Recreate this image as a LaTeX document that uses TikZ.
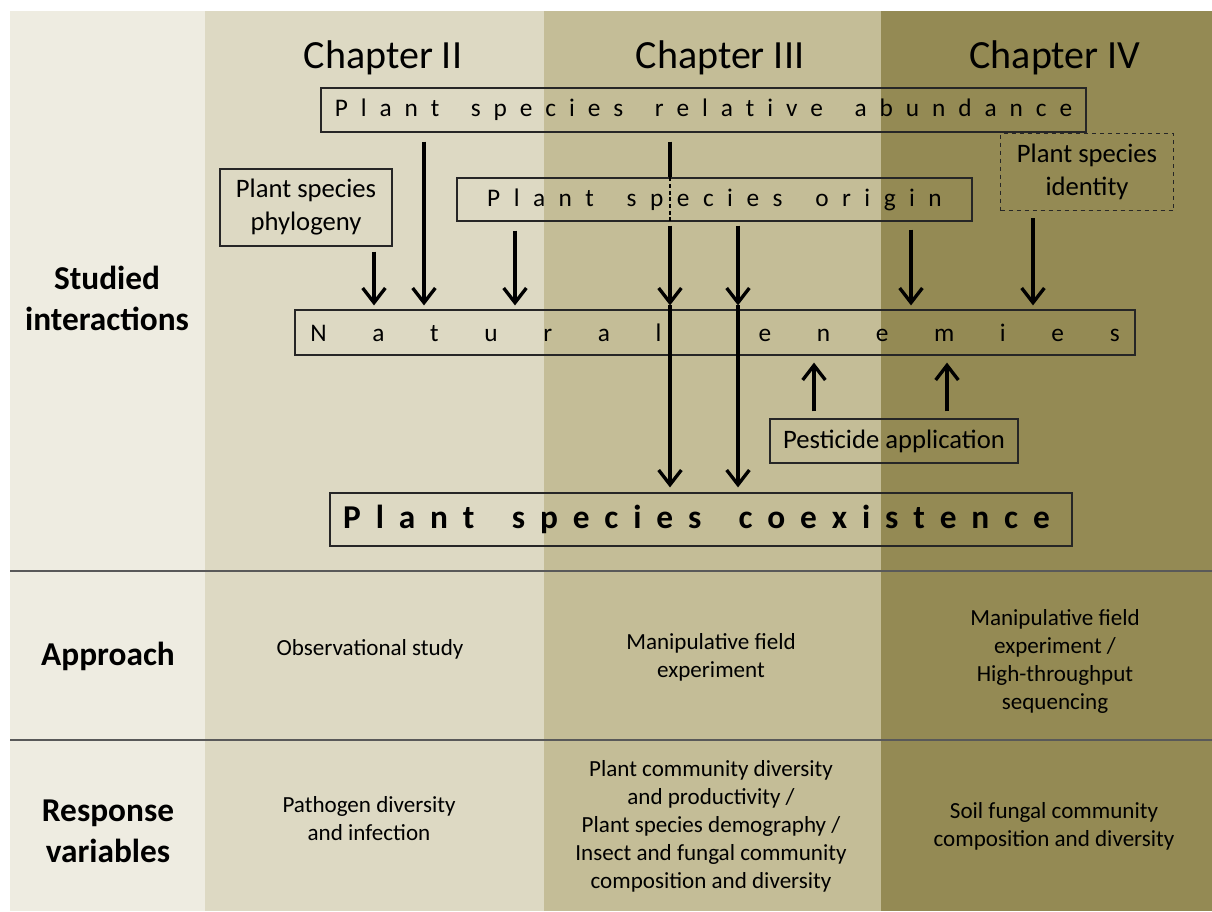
\documentclass[tikz,border=0pt]{standalone}
\usepackage{fontspec}
\setmainfont{Carlito}
\usetikzlibrary{arrows.meta,calc}
\definecolor{bgzero}{HTML}{EEECE1}
\definecolor{chtwo}{HTML}{DDD9C3}
\definecolor{chthree}{HTML}{C4BD97}
\definecolor{chfour}{HTML}{948A54}
\definecolor{rulecol}{HTML}{595959}
\def\spr#1{#1\sprA}
\def\sprA#1{\ifx#1\relax\else\hfil#1\expandafter\sprA\fi}
\newcommand\spaced[2]{\hbox to #1pt{\spr #2\relax}}
\begin{document}
\begin{tikzpicture}[x=0.75pt,y=-0.75pt,
  rulestyle/.style={draw=rulecol, line width=1.5pt},
  box/.style={draw=black!85, line width=0.9pt, inner sep=0pt, align=center},
  chap/.style={font=\fontsize{30}{36}\selectfont},
  rowlab/.style={font=\fontsize{25}{30.75}\selectfont\bfseries, align=center},
  midtext/.style={font=\fontsize{17.3}{21}\selectfont, align=center},
  boxtext/.style={font=\fontsize{20}{24.75}\selectfont},
  sptext/.style={font=\fontsize{19}{22}\selectfont},
  arr/.style={line width=2.5pt, -{Straight Barb[length=11pt,width=17pt]}},
  thickline/.style={line width=2.5pt}]
\useasboundingbox (0,0) rectangle (1212,911);
% column backgrounds
\fill[bgzero] (10,11) rectangle (205,911);
\fill[chtwo] (205,11) rectangle (544,911);
\fill[chthree] (544,11) rectangle (881,911);
\fill[chfour] (881,11) rectangle (1212,911);
\draw[rulestyle] (10,571) -- (1212,571);
\draw[rulestyle] (10,740) -- (1212,740);
% chapter titles
\node[chap] (t2) at (383,58) {Chapter II};
\node[chap] (t3) at (720,58) {Chapter III};
\node[chap] (t4) at (1055,58) {Chapter IV};
% row labels
\node[rowlab] (lab1) at (107,298) {Studied\\interactions};
\node[rowlab] (lab2) at (108,656) {Approach};
\node[rowlab] (lab3) at (108,831) {Response\\variables};
% boxes
\node[box, sptext, minimum width={765*0.75pt}, minimum height={44*0.75pt}] (abund) at (703.5,110)
  {\spaced{553}{Plant\ species\ relative\ abundance}};
\node[box, boxtext, minimum width={172*0.75pt}, minimum height={77*0.75pt}] (phylo) at (306,207.5)
  {Plant species\\phylogeny};
\node[box, sptext, minimum width={515*0.75pt}, minimum height={43*0.75pt}] (origin) at (714.5,199.5)
  {\spaced{341}{Plant\ species\ origin}};
\node[box, boxtext, dashed, minimum width={173*0.75pt}, minimum height={77*0.75pt}] (ident) at (1087,172)
  {Plant species\\identity};
\node[box, sptext, minimum width={840*0.75pt}, minimum height={45*0.75pt}] (nat) at (715,332.5)
  {\spaced{607}{Natural\ enemies}};
\node[box, boxtext, minimum width={248*0.75pt}, minimum height={44*0.75pt}] (pest) at (894,441)
  {Pesticide application};
\node[box, font=\fontsize{25}{30}\selectfont\bfseries, minimum width={742*0.75pt}, minimum height={53*0.75pt}] (coex) at (701,519.5)
  {\spaced{530}{Plant\ species\ coexistence}\kern6.75pt};
% approach texts
\node[midtext] (ap2) at (370,649) {Observational study};
\node[midtext] (ap3) at (711,657) {Manipulative field\\experiment};
\node[midtext] (ap4) at (1055,661) {Manipulative field\\experiment /\\High-throughput\\sequencing};
% response texts
\node[midtext] (rv2) at (369,819) {Pathogen diversity\\and infection};
\node[midtext] (rv3) at (711,826.5) {Plant community diversity\\and productivity /\\Plant species demography /\\Insect and fungal community\\composition and diversity};
\node[midtext] (rv4) at (1054,826) {Soil fungal community\\composition and diversity};
% arrow columns
\coordinate (xphy) at (374,0);
\coordinate (xab1) at (424,0);
\coordinate (xor1) at (515,0);
\coordinate (xab2) at (670,0);
\coordinate (xor2) at (738,0);
\coordinate (xor3) at (911,0);
\coordinate (xid) at (1033,0);
\coordinate (xp1) at (814,0);
\coordinate (xp2) at (947,0);
% arrows to natural enemies
\draw[arr] ($(phylo.south -| xphy)+(0,5)$) -- ($(nat.north -| xphy)+(0,-4)$);
\draw[arr] ($(abund.south -| xab1)+(0,9)$) -- ($(nat.north -| xab1)+(0,-4)$);
\draw[arr] ($(origin.south -| xor1)+(0,9)$) -- ($(nat.north -| xor1)+(0,-4)$);
\draw[thickline] ($(abund.south -| xab2)+(0,9)$) -- (origin.north -| xab2);
\draw[line width=0.8pt, dash pattern=on 3pt off 2pt] (origin.north -| xab2) -- (origin.south -| xab2);
\draw[arr] ($(origin.south -| xab2)+(0,4)$) -- ($(nat.north -| xab2)+(0,-4)$);
\draw[arr] ($(origin.south -| xor2)+(0,4)$) -- ($(nat.north -| xor2)+(0,-4)$);
\draw[arr] ($(origin.south -| xor3)+(0,8)$) -- ($(nat.north -| xor3)+(0,-4)$);
\draw[arr] ($(ident.south -| xid)+(0,7)$) -- ($(nat.north -| xid)+(0,-4)$);
% arrows to coexistence
\draw[arr] ($(nat.north -| xab2)+(0,-4)$) -- ($(coex.north -| xab2)+(0,-5)$);
\draw[arr] ($(nat.north -| xor2)+(0,-4)$) -- ($(coex.north -| xor2)+(0,-5)$);
% pesticide arrows
\draw[arr] ($(pest.north -| xp1)+(0,-7)$) -- ($(nat.south -| xp1)+(0,7)$);
\draw[arr] ($(pest.north -| xp2)+(0,-7)$) -- ($(nat.south -| xp2)+(0,7)$);
\end{tikzpicture}
\end{document}
